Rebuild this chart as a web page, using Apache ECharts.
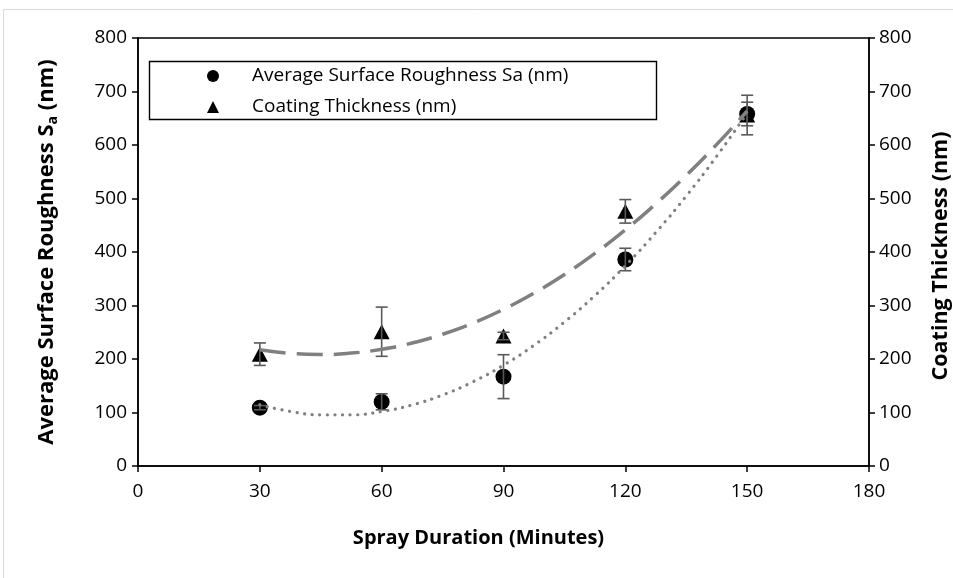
<!DOCTYPE html>
<html>
<head>
<meta charset="utf-8">
<script src="https://cdn.jsdelivr.net/npm/echarts@6/dist/echarts.min.js"></script>
<style>
html,body{margin:0;padding:0;background:#fff;}
#chart{width:953px;height:578px;}
</style>
</head>
<body>
<div id="chart"></div>
<script>
// ---- Data ----
var durations = [30, 60, 90, 120, 150];
var roughness = [109, 120, 167, 386, 658];
var roughnessErr = [4, 15, 41, 21, 22];
var thickness = [209, 251, 243, 476, 656];
var thicknessErr = [21, 46, 7, 22, 37];
// polynomial (order 2) trend lines
var trendX = [30, 37.5, 45, 52.5, 60, 67.5, 75, 82.5, 90, 97.5, 105, 112.5, 120, 127.5, 135, 142.5, 150];
var roughnessTrend = [114.5, 102.0, 95.7, 95.7, 101.8, 114.2, 132.7, 157.5, 188.5, 225.7, 269.1, 318.6, 374.4, 436.5, 504.7, 579.0, 659.7];
var thicknessTrend = [217.1, 210.5, 208.4, 211.0, 218.2, 229.9, 246.3, 267.3, 292.9, 323.1, 357.9, 397.3, 441.4, 490.0, 543.2, 601.1, 663.5];
var xTicks = {min: 0, max: 180, interval: 30};
var yTicks = {min: 0, max: 800, interval: 100};
var seriesNames = ['Average Surface Roughness Sa (nm)', 'Coating Thickness (nm)'];

function pairs(xs, ys) { return xs.map(function (x, i) { return [x, ys[i]]; }); }
function errData(xs, ys, es) { return xs.map(function (x, i) { return [x, ys[i] - es[i], ys[i] + es[i]]; }); }

var FONT = 'Open Sans';
var errColor = '#595959';
var trendColor = '#808080';

function errRender(params, api) {
  var lo = api.coord([api.value(0), api.value(1)]);
  var hi = api.coord([api.value(0), api.value(2)]);
  var hw = 6;
  var st = {stroke: errColor, lineWidth: 1.6};
  return {
    type: 'group',
    children: [
      {type: 'line', shape: {x1: lo[0], y1: lo[1], x2: hi[0], y2: hi[1]}, style: st},
      {type: 'line', shape: {x1: lo[0] - hw, y1: lo[1], x2: lo[0] + hw, y2: lo[1]}, style: st},
      {type: 'line', shape: {x1: hi[0] - hw, y1: hi[1], x2: hi[0] + hw, y2: hi[1]}, style: st}
    ]
  };
}

var axisLine = {show: true, onZero: false, lineStyle: {color: '#000', width: 1.5}};
var axisTick = {show: true, length: 6, lineStyle: {color: '#000', width: 1.5}};
var tickLabel = {color: '#000', fontFamily: FONT, fontSize: 19};
var nameStyle = {color: '#000', fontFamily: FONT, fontSize: 20, fontWeight: 'bold'};

var chart = echarts.init(document.getElementById('chart'), null, {renderer: 'canvas'});
chart.setOption({
  backgroundColor: '#fff',
  animation: false,
  grid: {left: 138, right: 84, top: 38, bottom: 112, outerBoundsMode: 'none', containLabel: false,
         show: true, borderColor: '#000', borderWidth: 1.5, backgroundColor: 'transparent'},
  graphic: [
    {type: 'rect', shape: {x: 3.5, y: 9.5, width: 1000, height: 1000}, style: {fill: 'none', stroke: '#d9d9d9', lineWidth: 1}, z: -10, silent: true},
    {type: 'rect', shape: {x: 149.5, y: 61.5, width: 507, height: 58}, style: {fill: '#fff', stroke: '#000', lineWidth: 1.4}, z: 5, silent: true}
  ],
  legend: {
    data: [
      {name: seriesNames[0], icon: 'circle'},
      {name: seriesNames[1], icon: 'triangle'}
    ],
    orient: 'vertical',
    left: 207,
    top: 65,
    padding: 0,
    itemWidth: 12,
    itemHeight: 12,
    itemGap: 9,
    z: 10,
    selectedMode: false,
    itemStyle: {opacity: 1},
    textStyle: {color: '#000', fontFamily: FONT, fontSize: 19, lineHeight: 22, padding: [0, 0, 0, 28]}
  },
  xAxis: {
    type: 'value',
    min: xTicks.min, max: xTicks.max, interval: xTicks.interval,
    splitLine: {show: false},
    axisLine: axisLine,
    axisTick: axisTick,
    axisLabel: Object.assign({margin: 16}, tickLabel),
    name: 'Spray Duration (Minutes)',
    nameLocation: 'middle',
    nameGap: 62,
    nameTextStyle: Object.assign({padding: [0, 50, 0, 0]}, nameStyle)
  },
  yAxis: [
    {
      type: 'value', position: 'left',
      min: yTicks.min, max: yTicks.max, interval: yTicks.interval,
      splitLine: {show: false},
      axisLine: axisLine,
      axisTick: axisTick,
      axisLabel: Object.assign({margin: 11}, tickLabel),
      name: '{n|Average Surface Roughness S}{s|a}{n| (nm)}',
      nameLocation: 'middle',
      nameRotate: 90,
      nameGap: 78,
      nameTextStyle: Object.assign({padding: [0, 0, 0, 0], rich: {
        n: {fontFamily: FONT, fontSize: 22, fontWeight: 'bold', color: '#000'},
        s: {fontFamily: FONT, fontSize: 14, fontWeight: 'bold', color: '#000', verticalAlign: 'bottom', padding: [12, 0, 0, 0]}
      }}, nameStyle)
    },
    {
      type: 'value', position: 'right',
      min: yTicks.min, max: yTicks.max, interval: yTicks.interval,
      splitLine: {show: false},
      axisLine: axisLine,
      axisTick: axisTick,
      axisLabel: Object.assign({margin: 10}, tickLabel),
      name: 'Coating Thickness (nm)',
      nameLocation: 'middle',
      nameRotate: 90,
      nameGap: 61,
      nameTextStyle: Object.assign({padding: [0, 8, 0, 0]}, nameStyle, {fontSize: 21.5})
    }
  ],
  series: [
    {
      name: seriesNames[1], type: 'scatter', yAxisIndex: 1,
      symbol: 'triangle', symbolSize: [16, 15],
      itemStyle: {color: '#000', opacity: 1}, z: 2,
      data: pairs(durations, thickness)
    },
    {
      name: seriesNames[0], type: 'scatter', yAxisIndex: 0,
      symbol: 'circle', symbolSize: 16,
      itemStyle: {color: '#000', opacity: 1}, z: 3,
      data: pairs(durations, roughness)
    },
    {
      name: 'thicknessErr', type: 'custom', yAxisIndex: 1, z: 4,
      renderItem: errRender, data: errData(durations, thickness, thicknessErr)
    },
    {
      name: 'roughnessErr', type: 'custom', yAxisIndex: 0, z: 4,
      renderItem: errRender, data: errData(durations, roughness, roughnessErr)
    },
    {
      name: 'thicknessTrend', type: 'line', yAxisIndex: 1, z: 5,
      smooth: true, showSymbol: false, symbol: 'none',
      lineStyle: {color: trendColor, width: 3.5, type: [26, 11], cap: 'butt'},
      data: pairs(trendX, thicknessTrend)
    },
    {
      name: 'roughnessTrend', type: 'line', yAxisIndex: 0, z: 5,
      smooth: true, showSymbol: false, symbol: 'none',
      lineStyle: {color: trendColor, width: 3.2, type: [0.1, 7.5], cap: 'round'},
      data: pairs(trendX, roughnessTrend)
    }
  ]
});
</script>
</body>
</html>
